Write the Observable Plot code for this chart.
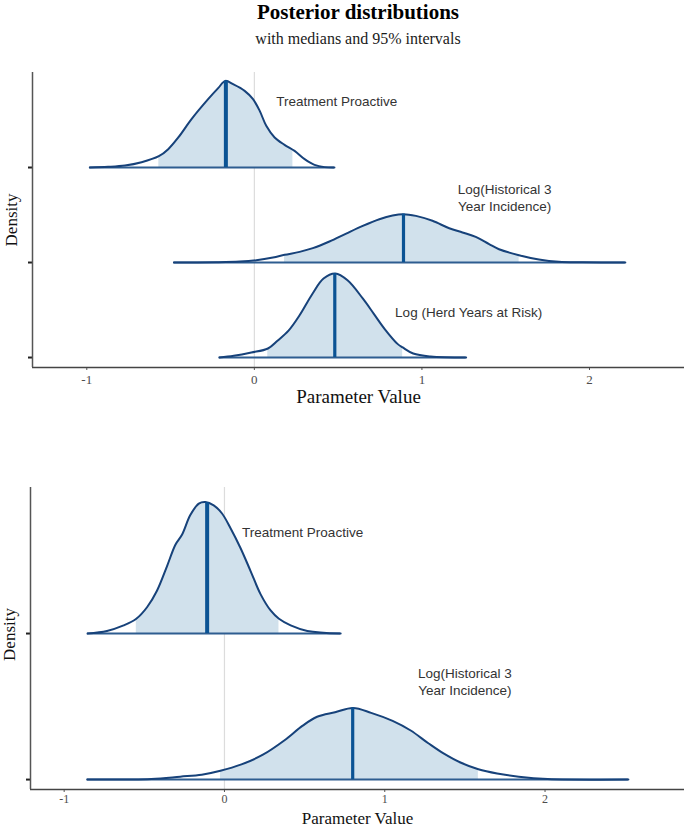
<!DOCTYPE html>
<html><head><meta charset="utf-8">
<script src="https://cdn.jsdelivr.net/npm/d3@7"></script>
<script src="https://cdn.jsdelivr.net/npm/@observablehq/plot@0.6"></script>
<style>
body{margin:0;background:#fff;}
#wrap{position:relative;width:685px;height:827px;overflow:hidden;background:#fff;}
.t{position:absolute;left:31px;width:654px;text-align:center;font-family:"Liberation Serif","Times New Roman",serif;color:#000;white-space:nowrap;}
#title{top:0px;font-size:21px;font-weight:bold;line-height:25px;}
#sub{top:29px;font-size:16px;line-height:19px;color:#1a1a1a;}
#top{position:absolute;left:0;top:55px;}
#bot{position:absolute;left:0;top:465px;}
</style></head><body>
<div id="wrap">
<div class="t" id="title">Posterior distributions</div>
<div class="t" id="sub">with medians and 95% intervals</div>
<div id="top"></div><div id="bot"></div>
</div>
<script>
// ---- Data (x = parameter value, d = ridge density height) ----
const xTicks = [-1, 0, 1, 2];

// Top panel
const topTreatX = [-0.982,-0.873,-0.772,-0.673,-0.570,-0.514,-0.454,-0.375,-0.276,-0.216,-0.173,-0.127,-0.058,-0.008,0.032,0.071,0.121,0.180,0.240,0.300,0.359,0.419,0.478];
const topTreatD = [0,0.007,0.021,0.056,0.119,0.193,0.316,0.509,0.719,0.835,0.912,0.877,0.807,0.719,0.596,0.439,0.316,0.239,0.175,0.088,0.028,0.004,0];
const topTreatStats = {median: -0.17, lo: -0.57, hi: 0.23};

const topHistX = [-0.480,-0.226,-0.087,0.012,0.111,0.181,0.270,0.349,0.448,0.548,0.647,0.746,0.825,0.889,0.964,1.063,1.163,1.242,1.321,1.401,1.460,1.579,1.698,1.817,1.956,2.214];
const topHistD = [0,0.0035,0.0105,0.025,0.053,0.081,0.112,0.151,0.221,0.305,0.386,0.456,0.495,0.509,0.491,0.439,0.361,0.316,0.270,0.193,0.140,0.077,0.032,0.007,0.002,0];
const topHistStats = {median: 0.89, lo: 0.18, hi: 1.58};

const topHerdX = [-0.209,-0.123,-0.018,0.081,0.138,0.204,0.269,0.347,0.413,0.483,0.556,0.648,0.713,0.778,0.856,0.885,0.948,1.052,1.264];
const topHerdD = [0,0.018,0.053,0.095,0.177,0.283,0.442,0.672,0.831,0.884,0.813,0.619,0.460,0.300,0.141,0.106,0.042,0.011,0];
const topHerdStats = {median: 0.48, lo: 0.08, hi: 0.885};

// Bottom panel
const botTreatX = [-0.854,-0.733,-0.629,-0.55,-0.483,-0.421,-0.358,-0.306,-0.265,-0.213,-0.160,-0.119,-0.067,-0.015,0.038,0.10,0.163,0.225,0.288,0.34,0.413,0.517,0.725];
const botTreatD = [0,0.018,0.056,0.101,0.180,0.293,0.462,0.608,0.676,0.811,0.890,0.901,0.878,0.822,0.721,0.586,0.428,0.270,0.158,0.101,0.056,0.018,0];
const botTreatStats = {median: -0.108, lo: -0.55, hi: 0.34};

const botHistX = [-0.856,-0.456,-0.276,-0.142,-0.025,0.106,0.240,0.375,0.488,0.578,0.690,0.802,0.915,1.049,1.162,1.274,1.364,1.476,1.584,1.701,1.836,2.016,2.52];
const botHistD = [0,0.004,0.020,0.033,0.060,0.104,0.170,0.269,0.369,0.430,0.461,0.49,0.457,0.402,0.336,0.247,0.181,0.115,0.071,0.042,0.020,0.004,0];
const botHistStats = {median: 0.80, lo: -0.025, hi: 1.584};

// Labels
const topLabels = [
  {text: "Treatment Proactive", x: 0.13, y: 3.705, anchor: "start"},
  {text: "Log(Historical 3\nYear Incidence)", x: 1.494, y: 2.69, anchor: "middle"},
  {text: "Log (Herd Years at Risk)", x: 0.84, y: 1.484, anchor: "start"}
];
const botLabels = [
  {text: "Treatment Proactive", x: 0.11, y: 2.70, anchor: "start"},
  {text: "Log(Historical 3\nYear Incidence)", x: 1.50, y: 1.676, anchor: "middle"}
];

// ---- helpers ----
function interp(s, v){
  for (let i = 1; i < s.x.length; i++) {
    if (v <= s.x[i]) { const t = (v - s.x[i-1]) / (s.x[i] - s.x[i-1]); return s.d[i-1] + t * (s.d[i] - s.d[i-1]); }
  }
  return 0;
}
function rowsOf(s){ return s.x.map((x, i) => ({x, y: s.level + s.d[i], base: s.level})); }
function shadeOf(s){
  const r = [{x: s.lo, y: s.level + interp(s, s.lo), base: s.level}];
  s.x.forEach((x, i) => { if (x > s.lo && x < s.hi) r.push({x, y: s.level + s.d[i], base: s.level}); });
  r.push({x: s.hi, y: s.level + interp(s, s.hi), base: s.level});
  return r;
}
const serif = "Liberation Serif, Times New Roman, serif";
const sans = "Liberation Sans, Arial, sans-serif";

function panel(series, labels, o){
  const marks = [];
  marks.push(Plot.ruleX([0], {stroke: "#dcdcdc", strokeWidth: 1.2}));
  for (const s of series) {
    marks.push(Plot.areaY(shadeOf(s), {x: "x", y1: "base", y2: "y", fill: "#d1e1ec", curve: "catmull-rom"}));
  }
  for (const s of series) {
    marks.push(Plot.ruleY([{y: s.level, x1: s.x[0], x2: s.x[s.x.length-1]}], {y: "y", x1: "x1", x2: "x2", stroke: "#2e5d90", strokeWidth: 2}));
    marks.push(Plot.line(rowsOf(s), {x: "x", y: "y", stroke: "#17427a", strokeWidth: 2, curve: "catmull-rom"}));
    marks.push(Plot.ruleX([{x: s.median, y1: s.level, y2: s.level + interp(s, s.median)}], {x: "x", y1: "y1", y2: "y2", stroke: "#0b5394", strokeWidth: s.mw}));
  }
  for (const anchor of ["start", "middle"]) {
    marks.push(Plot.text(labels.filter(d => d.anchor === anchor), {x: "x", y: "y", text: "text", textAnchor: anchor, fontSize: 13.5, fontFamily: sans, fill: "#333", lineHeight: 1.3}));
  }
  marks.push(Plot.axisX({ticks: xTicks, tickSize: 3, tickPadding: o.tickPad, fontSize: o.tickFont, fontFamily: serif, fill: "#4d4d4d", stroke: "#555", tickFormat: d => String(d), label: null}));
  marks.push(Plot.axisY({ticks: series.map(s => s.level), tickSize: 4, tickFormat: () => "", stroke: "#222", strokeWidth: 2, label: null}));
  marks.push(Plot.ruleY([o.y[0]], {stroke: "#444", strokeWidth: 1.5}));
  marks.push(Plot.ruleX([o.x[0]], {stroke: "#555", strokeWidth: 1.5}));
  marks.push(Plot.text(["Parameter Value"], {frameAnchor: "bottom", lineAnchor: "middle", dy: o.titleDy, fontSize: o.titleFont, fontFamily: serif, fill: "#111"}));
  marks.push(Plot.text(["Density"], {frameAnchor: "left", textAnchor: "middle", lineAnchor: "middle", dx: -21, dy: o.densDy || 0, rotate: -90, fontSize: 17, fontFamily: serif, fill: "#111"}));
  return Plot.plot({
    width: 685, height: o.height,
    marginLeft: o.ml, marginRight: 1, marginTop: o.mt, marginBottom: o.mb,
    x: {domain: o.x}, y: {domain: o.y},
    style: {background: "transparent", overflow: "visible"},
    marks
  });
}

const topSeries = [
  {x: topTreatX, d: topTreatD, level: 3, mw: 4, ...topTreatStats},
  {x: topHistX, d: topHistD, level: 2, mw: 3.2, ...topHistStats},
  {x: topHerdX, d: topHerdD, level: 1, mw: 3.2, ...topHerdStats}
];
const botSeries = [
  {x: botTreatX, d: botTreatD, level: 2, mw: 4, ...botTreatStats},
  {x: botHistX, d: botHistD, level: 1, mw: 3.2, ...botHistStats}
];

document.getElementById("top").append(panel(topSeries, topLabels, {height: 357, mt: 17, mb: 45, ml: 32, x: [-1.324, 2.567], y: [0.895, 4], titleDy: 29, titleFont: 19, tickFont: 13, tickPad: 4}));
document.getElementById("bot").append(panel(botSeries, botLabels, {height: 362, mt: 22, mb: 38, ml: 30, x: [-1.21, 2.87], y: [0.932, 3], titleDy: 29, titleFont: 17, tickFont: 12, tickPad: 2, densDy: -4}));
</script>
</body></html>
